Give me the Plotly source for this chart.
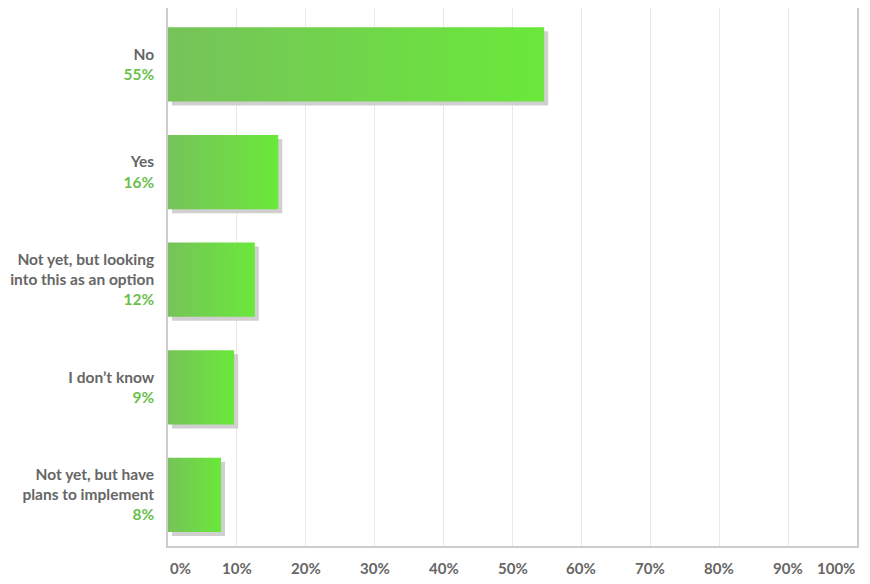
import plotly.graph_objects as go

categories = ["No", "Yes", "Not yet, but looking<br>into this as an option", "I don’t know", "Not yet, but have<br>plans to implement"]
values = [54.6, 16.0, 12.6, 9.6, 7.7]
pct_labels = ["55%", "16%", "12%", "9%", "8%"]
x_ticks = [0, 10, 20, 30, 40, 50, 60, 70, 80, 90, 100]
x_tick_labels = [f"{t}%" for t in x_ticks]

FONT = "Lato"
GRAY = "#666666"
GREEN = "#6abf4b"
BAR_W = 0.69
SH_DX = 0.58   # shadow offset in x units (~4px)
SH_DY = 0.037  # shadow offset in y units (~4px)
Y_SHIFT = 0.025  # small downward shift of category bands

fig = go.Figure()

# shadows
fig.add_trace(go.Bar(
    orientation="h",
    x=values,
    y=[i + SH_DY for i in range(len(values))],
    base=SH_DX,
    width=BAR_W,
    marker=dict(color="#d0d0d0", line=dict(width=0)),
    hoverinfo="skip",
    showlegend=False,
))

# gradient bars
for i, v in enumerate(values):
    y0, y1 = i - BAR_W / 2, i + BAR_W / 2
    fig.add_trace(go.Scatter(
        x=[0, v, v, 0, 0],
        y=[y0, y0, y1, y1, y0],
        mode="lines",
        line=dict(width=0),
        fill="toself",
        fillgradient=dict(type="horizontal",
                          colorscale=[[0, "#76c35a"], [1, "#6ae83a"]]),
        hoverinfo="skip",
        showlegend=False,
    ))

ticktext = [f"{c}<br><span style='color:{GREEN}'>{p}</span>" for c, p in zip(categories, pct_labels)]

annotations = []
for i, (t, lab) in enumerate(zip(x_ticks, x_tick_labels)):
    anchor = "left" if i == 0 else ("right" if i == len(x_ticks) - 1 else "center")
    annotations.append(dict(
        x=t, xref="x", y=0, yref="paper", yshift=-22,
        text=lab, showarrow=False, xanchor=anchor, yanchor="middle",
        font=dict(family=FONT, size=15, color=GRAY, weight="bold"),
    ))

fig.update_layout(
    width=854, height=568,
    margin=dict(l=160, r=5, t=0, b=30, autoexpand=False),
    plot_bgcolor="white", paper_bgcolor="white",
    barmode="overlay",
    annotations=annotations,
    xaxis=dict(
        range=[0, 100], tickvals=x_ticks, showticklabels=False,
        showgrid=True, gridcolor="#e8e8e8", gridwidth=1,
        showline=True, linecolor="#cccccc", linewidth=1.5,
        zeroline=False, fixedrange=True, automargin=False,
    ),
    yaxis=dict(
        range=[len(values) - 0.5 - Y_SHIFT, -0.5 - Y_SHIFT],
        tickvals=list(range(len(values))), ticktext=ticktext,
        tickfont=dict(family=FONT, size=15.5, color=GRAY, weight="bold"),
        ticks="", ticklabelstandoff=9,
        showgrid=False, zeroline=False,
        showline=True, mirror=True, linecolor="#cccccc", linewidth=1.5,
        fixedrange=True, automargin=False,
    ),
)

fig.write_html("out.html")
